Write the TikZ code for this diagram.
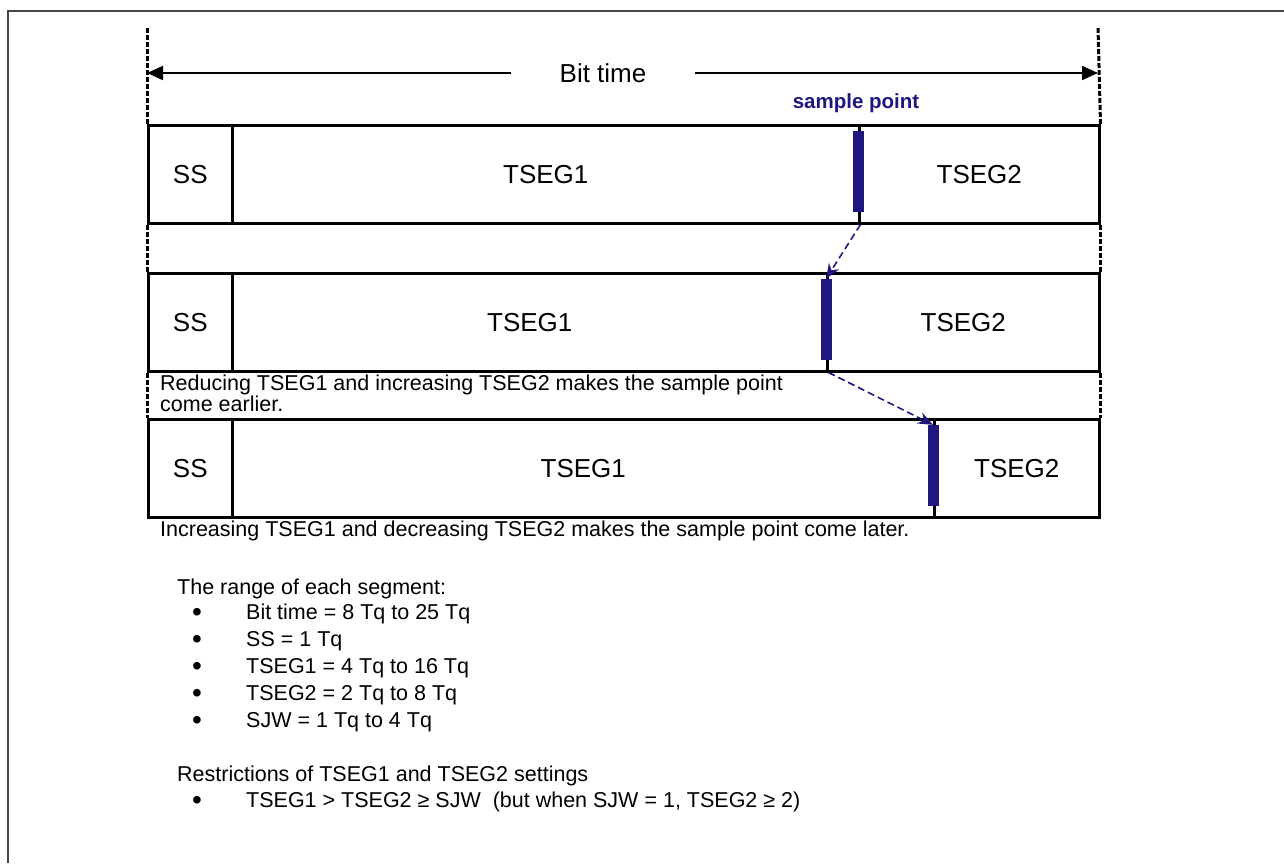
\documentclass[tikz,border=0pt]{standalone}
\usepackage{fontspec}
\setmainfont{Liberation Sans}
\usetikzlibrary{arrows.meta,positioning}
\definecolor{spblue}{RGB}{32,22,128}
\definecolor{framec}{RGB}{70,70,70}

\begin{document}
\begin{tikzpicture}[x=1pt, y=-1pt,
  every node/.style={font=\fontsize{21.5}{25}\selectfont},
  cell/.style={draw, line width=2.5pt, minimum height=98pt, inner sep=0pt, anchor=north west,
    font=\fontsize{26}{30}\selectfont},
  spbar/.style={fill=spblue, minimum width=11pt, minimum height=81pt, inner sep=0pt},
  sparrow/.style={spblue, line width=1.6pt, dash pattern=on 7pt off 4pt, -{Stealth[length=15pt,width=12pt]}},
  gapline/.style={line width=3pt, dash pattern=on 5pt off 2pt},
  txt/.style={anchor=west, inner sep=0pt}]
  \useasboundingbox (0,0) rectangle (1284,863);
  \draw[line width=2.5pt, framec] (8,863) -- (8,11) -- (1284,11);
  % bit time
  \coordinate (lt) at (147,28);
  \coordinate (rt) at (1098,28);
  \coordinate (bl) at (147,73);
  \coordinate (br) at (1098,73);
  \node[font=\fontsize{26}{30}\selectfont, inner xsep=48pt] (bittime) at (603,73) {Bit time};
  \draw[line width=2pt, -{Triangle[length=16pt,width=14pt]}] (bittime.west) -- (bl);
  \draw[line width=2pt, -{Triangle[length=16pt,width=14pt]}] (bittime.east) -- (br);
  % three bit rows
  \foreach \r/\y/\s in {a/124/858, b/272/826, c/418/933} {
    \node[cell, minimum width=84pt] (ss\r) at (147,\y) {SS};
    \node[cell, minimum width={(\s-231)*1pt}] (tsega\r) at (231,\y) {TSEG1};
    \node[cell, minimum width={(1098-\s)*1pt}] (tsegb\r) at (\s,\y) {TSEG2};
    \node[spbar] (bar\r) at (\s,{\y+47.5}) {};
  }
  \node[spblue, font=\fontsize{20.5}{24}\selectfont\bfseries] (splabel) at (856,103) {sample point};
  % dashed edges
  \draw[gapline] (lt) -- (ssa.north west);
  \draw[gapline] (rt) -- (tsegba.north east);
  \draw[gapline] (ssa.south west) -- (ssb.north west);
  \draw[gapline] (tsegba.south east) -- (tsegbb.north east);
  \draw[gapline] (ssb.south west) -- (ssc.north west);
  \draw[gapline] (tsegbb.south east) -- (tsegbc.north east);
  % sample point moves
  \draw[sparrow] (tsegaa.south east) -- (barb.north);
  \draw[sparrow] (tsegab.south east) -- (barc.north);
  \node[anchor=north west, align=left, inner sep=0pt, font=\fontsize{21.5}{20}\selectfont] (earlier) at (160,375)
    {Reducing TSEG1 and increasing TSEG2 makes the sample point\\come earlier.};
  \node[txt] (later) at (160,531) {Increasing TSEG1 and decreasing TSEG2 makes the sample point come later.};
  % ranges
  \node[txt] (range) at (177,589) {The range of each segment:};
  \foreach \i/\t in {0/Bit time = 8 Tq to 25 Tq, 1/SS = 1 Tq, 2/TSEG1 = 4 Tq to 16 Tq,
    3/TSEG2 = 2 Tq to 8 Tq, 4/SJW = 1 Tq to 4 Tq} {
    \node[txt, font=\fontsize{28}{30}\selectfont] (dot\i) at (192,{615+27*\i}) {•};
    \node[txt] (item\i) at (246,{614+27*\i}) {\t};
  }
  \node[txt] (restr) at (177,776) {Restrictions of TSEG1 and TSEG2 settings};
  \node[txt, font=\fontsize{28}{30}\selectfont] (dot5) at (192,803) {•};
  \node[txt] (item5) at (246,802) {TSEG1 > TSEG2 ≥ SJW\ \ (but when SJW = 1, TSEG2 ≥ 2)};
\end{tikzpicture}
\end{document}
